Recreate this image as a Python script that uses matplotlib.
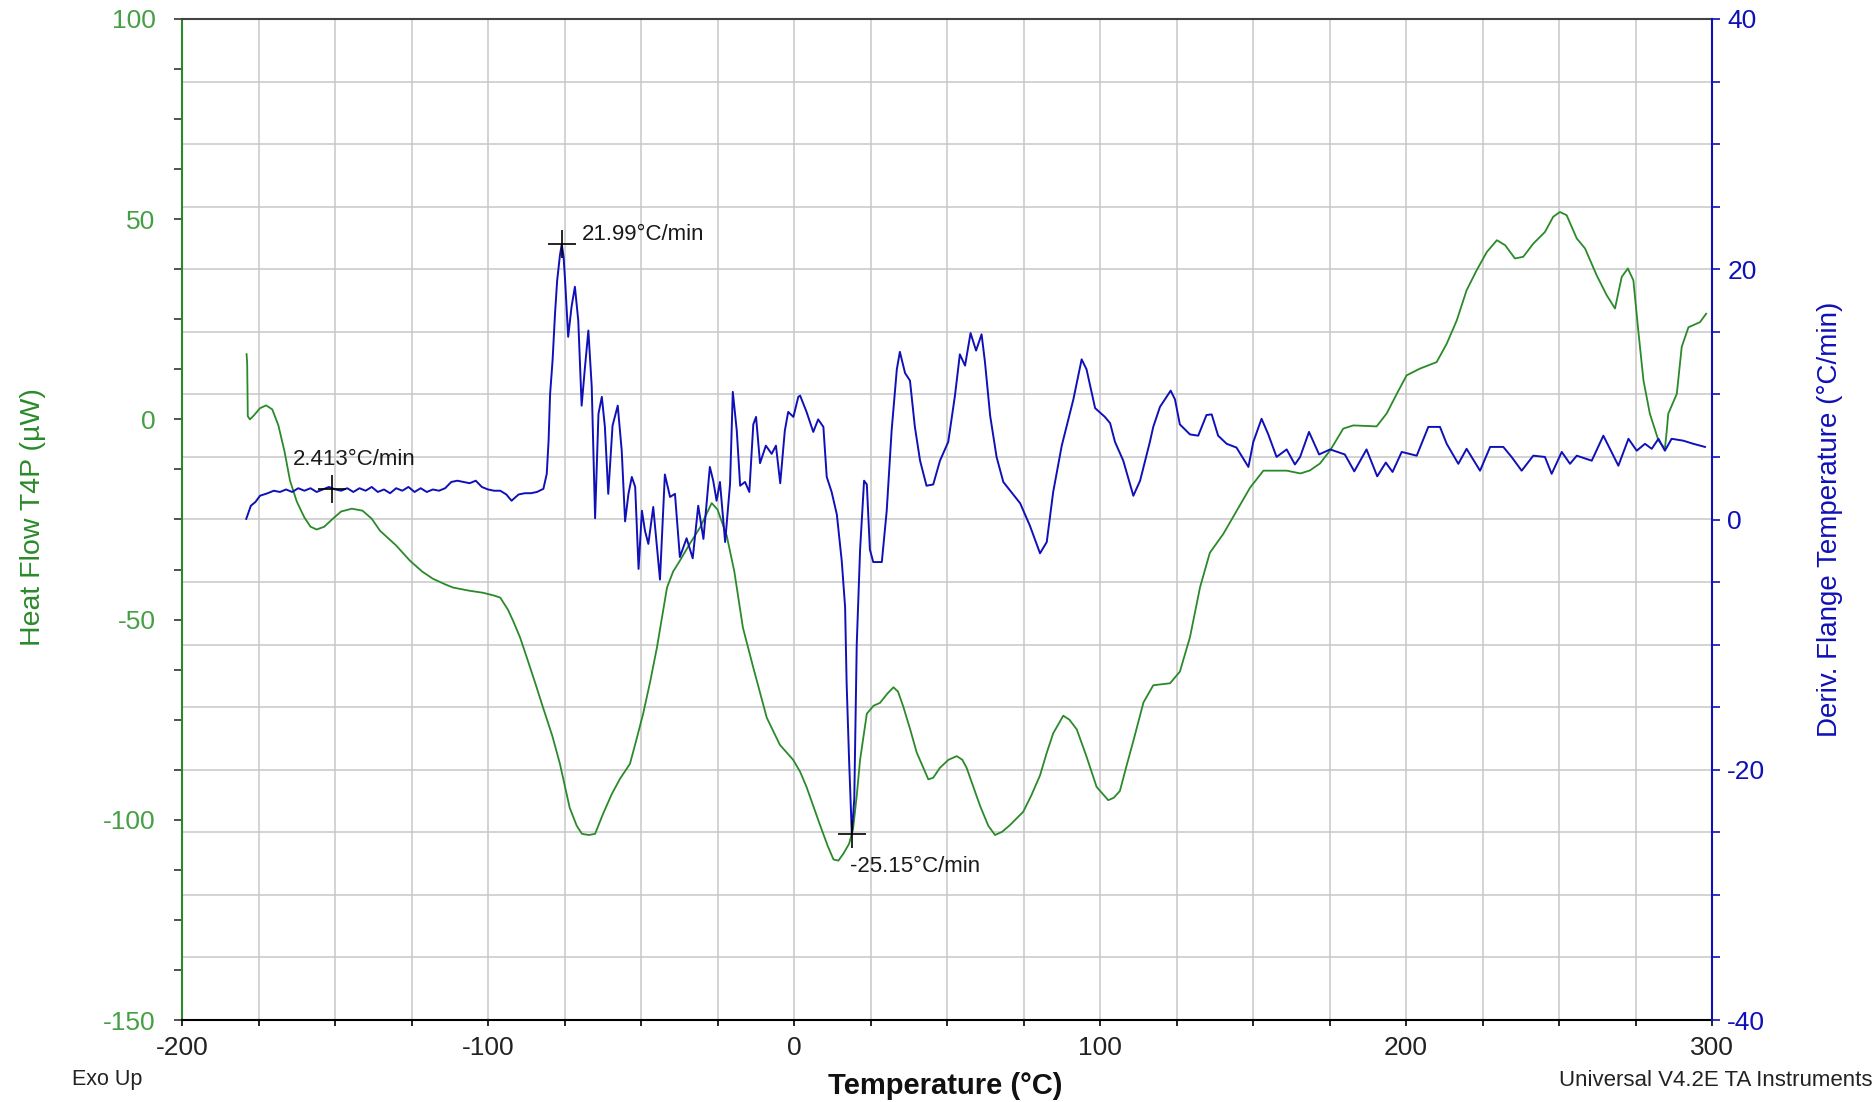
import numpy as np
import matplotlib
matplotlib.use("Agg")
import matplotlib.pyplot as plt
from matplotlib.ticker import MultipleLocator

plt.rcParams["font.family"] = ["Liberation Sans", "DejaVu Sans"]
plt.rcParams["axes.unicode_minus"] = False

# Heat flow (left axis, µW) vs temperature (°C)
hf_temp = [-178.9, -178.7, -178.6, -178.5, -177.8, -176.5, -174.5, -172.5, -170.5, -168.5,
           -166.5, -164.7, -162.5, -160, -158, -156, -153.5, -151, -148, -144.5,
           -141, -138, -135.3, -130, -125.5, -121.5, -118, -114, -111.4, -106,
           -101.6, -98, -96, -93.5, -91.8, -89.5, -87.3, -84.5, -82, -79,
           -76.5, -73.3, -71, -69.3, -67, -65, -62.4, -59.5, -56.9, -53.6,
           -51.5, -49.3, -47, -44.8, -41.5, -39.5, -37.3, -34, -30.7, -28.5,
           -26.9, -25, -22, -19.5, -16.7, -13.3, -11, -8.9, -4.6, -0.3,
           2, 4.1, 8.5, 11, 12.9, 14.5, 16.1, 18, 19.3, 20.5,
           21.6, 23.8, 26, 28.1, 30.5, 32.5, 34, 35.7, 38, 40.1,
           43.9, 45.5, 47.7, 50.5, 53.2, 55, 56.4, 58.5, 60.8, 63.5,
           65.7, 68, 70.6, 74.9, 77.5, 80.4, 82.5, 84.7, 88, 90,
           92.4, 95.5, 98.9, 102.7, 104.5, 106.5, 108.5, 110.9, 114.2, 117.4,
           122.9, 126.1, 129.4, 132.7, 135.9, 140.3, 144.7, 149, 153.4, 161,
           165.5, 168.6, 171.9, 175.2, 179.5, 182.8, 190.4, 193.7, 197, 200.2,
           204.6, 210, 213.3, 216.6, 219.8, 223.1, 226.4, 229.7, 232.4, 235.6,
           238.3, 241.6, 245.4, 248.1, 250.3, 252.5, 255.8, 258.5, 262.3, 265.6,
           268.3, 270.5, 272.5, 274.3, 275.9, 277.6, 279.7, 282.5, 284.6, 285.2,
           285.7, 288.5, 290.1, 292.3, 296.1, 298.1]
hf_value = [16.3, 14, 8, 0.8, 0.0, 1.0, 2.8, 3.5, 2.5, -1.5,
            -8, -15.3, -20.5, -24.5, -26.8, -27.5, -26.8, -25, -23, -22.3,
            -22.8, -24.8, -27.8, -31.5, -35.3, -38, -39.8, -41.2, -42, -42.8,
            -43.3, -44, -44.5, -47.5, -50.3, -54.5, -59.5, -66, -72, -79,
            -86, -97, -101.5, -103.5, -103.8, -103.5, -98.5, -93.5, -89.8, -86,
            -80, -73.5, -65.5, -57, -42, -38, -35.3, -31, -27, -23.5,
            -20.9, -22.5, -29, -38, -52, -62, -68.5, -74.5, -81.3, -85,
            -88, -91.8, -101.3, -106.5, -109.9, -110.2, -108.5, -106, -102.3, -94,
            -85, -73.5, -71.5, -70.8, -68.5, -66.9, -68, -71.7, -77.5, -83.2,
            -89.9, -89.5, -87, -85, -84.1, -85, -87, -91.5, -96.5, -101.5,
            -103.8, -103, -101.3, -98, -94, -88.9, -83.5, -78.4, -74, -75,
            -77.4, -84, -91.8, -95.1, -94.5, -92.8, -87, -80.3, -70.7, -66.4,
            -65.9, -63, -54.4, -41.9, -33.3, -28.6, -22.8, -17.1, -12.8, -12.8,
            -13.5, -12.75, -11, -7.75, -2.3, -1.5, -1.75, 1.5, 6.4, 11,
            12.7, 14.3, 18.9, 24.75, 32.25, 37.25, 41.8, 44.75, 43.5, 40.2,
            40.6, 43.9, 46.8, 50.6, 51.8, 51, 45.2, 42.7, 36, 31,
            27.7, 35.6, 37.7, 34.75, 22.25, 9.75, 1.4, -5.25, -7.3, -3,
            1.4, 6.4, 18.1, 23, 24.3, 26.4]

# Derivative of flange temperature (right axis, °C/min)
dt_temp = [-179, -178.5, -177.5, -176, -174.5, -172, -170, -168, -166, -164,
           -162, -160, -158, -156, -154, -152, -150, -148, -146, -144,
           -142, -140, -138, -136, -134, -132, -130, -128, -126, -124,
           -122, -120, -118, -116, -114, -112, -110, -108, -106, -104,
           -102, -100, -98, -96, -94, -92.3, -90, -88, -86, -84,
           -81.9, -80.8, -80.2, -79.7, -78.9, -78.1, -77.4, -76.5, -75.9, -75.3,
           -74.8, -73.8, -72.7, -71.6, -70.5, -69.4, -68.3, -67.2, -66.1, -65,
           -63.9, -62.8, -61.8, -60.7, -59.3, -57.6, -56.3, -55.2, -54.1, -53,
           -51.9, -50.8, -49.7, -48.7, -47.6, -46, -43.8, -42.2, -40.5, -38.9,
           -37.3, -35.1, -33.1, -31.3, -29.6, -27.5, -26.4, -25.3, -24.2, -22.5,
           -20.9, -20, -18.7, -17.6, -16, -14.6, -13.3, -12.4, -11.1, -9.2,
           -7.3, -5.9, -4.5, -3, -1.9, -0.2, 1.4, 2, 4.1, 6.3,
           7.9, 9.6, 10.7, 12.3, 14, 15.6, 16.7, 17.2, 18, 18.9,
           19.7, 20.5, 21.6, 22.9, 23.8, 24.8, 25.9, 28.7, 30.3, 31.9,
           33.6, 34.6, 36.3, 37.9, 39.5, 41.2, 43.3, 45.5, 47.7, 50.4,
           52.6, 54.2, 55.9, 57.7, 59.5, 61.3, 62.4, 64.1, 66.2, 68.4,
           71, 73.9, 77.1, 80.4, 82.6, 84.7, 87.5, 91.3, 94, 95.6,
           98.4, 101.6, 103.3, 104.9, 107.6, 110.9, 113.1, 116.3, 117.4, 119.6,
           123.1, 124.5, 126.1, 129.4, 132.1, 134.8, 136.5, 138.6, 141.4, 144.6,
           148.5, 150.1, 152.8, 155, 157.7, 161, 163.7, 165.4, 168.3, 171.6,
           175.2, 180, 183.1, 187.1, 190.6, 193.4, 195.6, 198.6, 203.5, 207.3,
           211.1, 213.3, 217.1, 219.8, 224.2, 227.5, 231.8, 234.5, 237.8, 241.6,
           245.4, 247.6, 250.9, 253.6, 255.8, 260.7, 264.5, 269.4, 272.7, 275.4,
           278.1, 280.3, 282.5, 284.6, 286.8, 290.6, 293.9, 297.7]
dt_value = [0.05, 0.4, 1.1, 1.4, 1.9, 2.1, 2.3, 2.2, 2.4, 2.2,
            2.5, 2.3, 2.5, 2.2, 2.4, 2.6, 2.41, 2.3, 2.5, 2.2,
            2.5, 2.3, 2.6, 2.2, 2.4, 2.1, 2.5, 2.3, 2.6, 2.2,
            2.5, 2.2, 2.4, 2.3, 2.5, 3.0, 3.1, 3.0, 2.9, 3.1,
            2.6, 2.4, 2.3, 2.3, 2.0, 1.5, 2.0, 2.1, 2.1, 2.2,
            2.45, 3.65, 6.3, 10.05, 12.7, 16.45, 19.1, 21.1, 21.99, 21.0,
            19.1, 14.6, 17.0, 18.6, 15.9, 9.1, 12.2, 15.1, 10.6, 0.1,
            8.45, 9.8, 7.4, 2.05, 7.5, 9.1, 5.5, -0.15, 2.05, 3.4,
            2.6, -3.95, 0.7, -0.9, -1.95, 1.0, -4.8, 3.6, 1.8, 2.05,
            -3.0, -1.5, -3.1, 1.1, -1.55, 4.2, 3.1, 1.5, 3.0, -1.8,
            2.85, 10.2, 7.1, 2.7, 3.0, 2.2, 7.6, 8.2, 4.5, 5.9,
            5.25, 5.9, 2.9, 7.1, 8.6, 8.2, 9.8, 9.9, 8.6, 7.0,
            8.0, 7.4, 3.4, 2.2, 0.4, -3.3, -7.0, -13.1, -19.2, -25.15,
            -22.3, -10.0, -2.4, 3.1, 2.8, -2.4, -3.4, -3.4, 0.7, 7.1,
            12.0, 13.4, 11.7, 11.1, 7.4, 4.7, 2.7, 2.8, 4.7, 6.2,
            9.9, 13.2, 12.3, 14.9, 13.5, 14.8, 12.6, 8.3, 5.0, 3.0,
            2.2, 1.3, -0.5, -2.7, -1.8, 2.2, 5.9, 9.6, 12.8, 12.0,
            8.9, 8.2, 7.7, 6.2, 4.7, 1.9, 3.1, 6.2, 7.4, 9.0,
            10.3, 9.6, 7.6, 6.8, 6.7, 8.35, 8.4, 6.7, 6.05, 5.75,
            4.2, 6.2, 8.05, 6.8, 5.0, 5.6, 4.4, 5.0, 7.0, 5.2,
            5.6, 5.2, 3.85, 5.6, 3.45, 4.55, 3.8, 5.4, 5.1, 7.4,
            7.4, 6.05, 4.45, 5.65, 3.9, 5.8, 5.8, 5.0, 3.9, 5.1,
            5.0, 3.65, 5.4, 4.45, 5.1, 4.7, 6.7, 4.3, 6.45, 5.5,
            6.05, 5.65, 6.45, 5.5, 6.45, 6.3, 6.05, 5.8]

# marked points on the derivative curve
mark_temp = [-151.1, -75.9, 18.9]
mark_value = [2.413, 21.99, -25.15]
mark_text = ["2.413°C/min", "21.99°C/min", "-25.15°C/min"]

green = "#2a8a2a"
green_txt = "#45a045"
blue = "#1010b8"

fig = plt.figure(figsize=(18.76, 11.02), dpi=100)
ax = fig.add_axes([182 / 1876, 1 - 1020 / 1102, 1530 / 1876, 1001 / 1102])
ax2 = ax.twinx()

ax.set_xlim(-200, 300)
ax.set_ylim(-150, 100)
ax2.set_ylim(-40, 40)

# grid: vertical every 25 °C, horizontal at right-axis steps of 5
for t in np.arange(-175, 300, 25):
    ax.axvline(t, color="#c8c8c8", lw=1.1, zorder=0)
lo, hi = ax.get_ylim()
lo2, hi2 = ax2.get_ylim()
for v in np.arange(-35, 40, 5):
    ax.axhline(lo + (v - lo2) * (hi - lo) / (hi2 - lo2), color="#c8c8c8", lw=1.1, zorder=0)

ax.plot(hf_temp, hf_value, color=green, lw=1.3, zorder=3)
ax2.plot(dt_temp, dt_value, color=blue, lw=1.4, zorder=3)

ax2.plot(mark_temp, mark_value, linestyle="none", marker="+", markersize=20,
         markeredgewidth=1.2, color="black", zorder=4)
offsets = [(-39, 30), (20, 10), (-2, -32)]
for t, v, s, off in zip(mark_temp, mark_value, mark_text, offsets):
    ax2.annotate(s, (t, v), xytext=off, textcoords="offset pixels",
                 ha="left", va="center", fontsize=16, color="#1a1a1a")

# axes styling
ax.xaxis.set_major_locator(MultipleLocator(100))
ax.xaxis.set_minor_locator(MultipleLocator(25))
ax.yaxis.set_major_locator(MultipleLocator(50))
ax.yaxis.set_minor_locator(MultipleLocator(12.5))
ax2.yaxis.set_major_locator(MultipleLocator(20))
ax2.yaxis.set_minor_locator(MultipleLocator(5))

ax.tick_params(axis="x", which="both", direction="out", length=4.5, width=1.2,
               colors="black", labelsize=19, pad=7)
ax.tick_params(axis="x", which="major", labelcolor="#222222")
ax.tick_params(axis="y", which="both", direction="out", length=6, width=1.2,
               color="#333333", labelcolor=green_txt, labelsize=19, pad=13)
ax2.tick_params(axis="y", which="both", direction="out", length=6, width=1.2,
                color=blue, labelcolor=blue, labelsize=19, pad=5)

for sp in ax2.spines.values():
    sp.set_visible(False)
ax2.spines["right"].set_visible(True)
ax2.spines["right"].set_color(blue)
ax2.spines["right"].set_linewidth(1.5)
ax.spines["right"].set_visible(False)
ax.spines["left"].set_color(green)
ax.spines["left"].set_linewidth(1.5)
ax.spines["top"].set_color("#444444")
ax.spines["top"].set_linewidth(1.5)
ax.spines["bottom"].set_color("black")
ax.spines["bottom"].set_linewidth(1.5)

fig.text(33 / 1876, 0.5304, "Heat Flow T4P (µW)", rotation=90, color=green,
         fontsize=20.5, ha="center", va="center")
fig.text(1830 / 1876, 0.529, "Deriv. Flange Temperature (°C/min)", rotation=90,
         color=blue, fontsize=20, ha="center", va="center")
fig.text(945 / 1876, 1 - 1086 / 1102, "Temperature (°C)", fontsize=21,
         fontweight="bold", ha="center", va="center", color="#111111")
fig.text(72 / 1876, 1 - 1080 / 1102, "Exo Up", fontsize=15.5, ha="left",
         va="center", color="#222222")
fig.text(1872 / 1876, 1 - 1080 / 1102, "Universal V4.2E TA Instruments",
         fontsize=16, ha="right", va="center", color="#222222")

fig.savefig("out.png", dpi=100)
